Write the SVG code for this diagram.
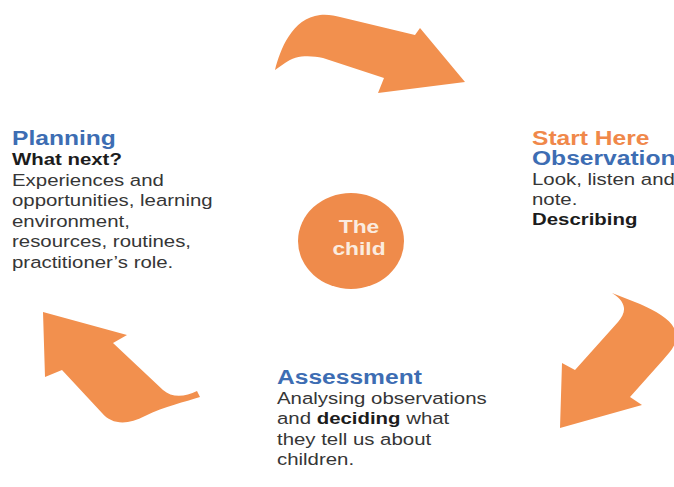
<svg xmlns="http://www.w3.org/2000/svg" width="674" height="487" viewBox="0 0 674 487">
<style>
  .arrow { fill: #F2904E; }
  .t { font-family: "Liberation Sans", Arial, sans-serif; font-size: 17px; fill: #363636; }
  .b { font-weight: bold; fill: #1c1c1c; }
  .h { font-family: "Liberation Sans", Arial, sans-serif; font-size: 20.5px; font-weight: bold; fill: #3D6DB3; }
  .ho { font-family: "Liberation Sans", Arial, sans-serif; font-size: 20.5px; font-weight: bold; fill: #F0884A; }
  .c { font-family: "Liberation Sans", Arial, sans-serif; font-size: 19px; font-weight: bold; fill: #FBEBDF; text-anchor: middle; }
</style>
<rect width="674" height="487" fill="#ffffff"/>
<g id="connectors">
  <path id="arrow-top" class="arrow" d="M275,70 C280,50 292,18 320,15 C328,14 335,16 340,17 L415,35 L420,28 L465,82 L378,93 L384,78 L323,58 C310,55 295,55 285,63 Z"/>
  <path id="arrow-right" class="arrow" d="M612,293 L640,304 C660,313 675,322 676,335 C677,345 670,352 663,360 L630,397 L642,405 L560,428 L562,363 L575,370 L618,322 C626,313 628,303 612,293 Z"/>
  <path id="arrow-left" class="arrow" d="M43,312 L127,335 L113,343 L163,390 C172,398 185,397 197,391 L200,397 C185,402 165,406 145,416 C128,425 112,425 102,413 L62,370 L45,377 Z"/>
</g>
<g id="child">
  <ellipse cx="351" cy="241" rx="53" ry="48" fill="#EF8B4B"/>
  <g transform="translate(359 0) scale(1.2 1)">
    <text class="c" x="0" y="233">The</text>
    <text class="c" x="0" y="255">child</text>
  </g>
</g>
<g id="planning" transform="translate(12 0) scale(1.2 1)">
  <text class="h" x="0" y="145">Planning</text>
  <text class="t b" x="0" y="165.5">What next?</text>
  <text class="t" x="0" y="186">Experiences and</text>
  <text class="t" x="0" y="206.5">opportunities, learning</text>
  <text class="t" x="0" y="227">environment,</text>
  <text class="t" x="0" y="247.5">resources, routines,</text>
  <text class="t" x="0" y="268">practitioner’s role.</text>
</g>
<g id="observation" transform="translate(532 0) scale(1.2 1)">
  <text class="ho" x="0" y="145">Start Here</text>
  <text class="h" x="0" y="165.5">Observation</text>
  <text class="t" x="0" y="185">Look, listen and</text>
  <text class="t" x="0" y="205">note.</text>
  <text class="t b" x="0" y="225">Describing</text>
</g>
<g id="assessment" transform="translate(277 0) scale(1.2 1)">
  <text class="h" x="0" y="384">Assessment</text>
  <text class="t" x="0" y="404">Analysing observations</text>
  <text class="t" x="0" y="424.5">and <tspan class="b">deciding</tspan> what</text>
  <text class="t" x="0" y="445">they tell us about</text>
  <text class="t" x="0" y="465">children.</text>
</g>
</svg>
